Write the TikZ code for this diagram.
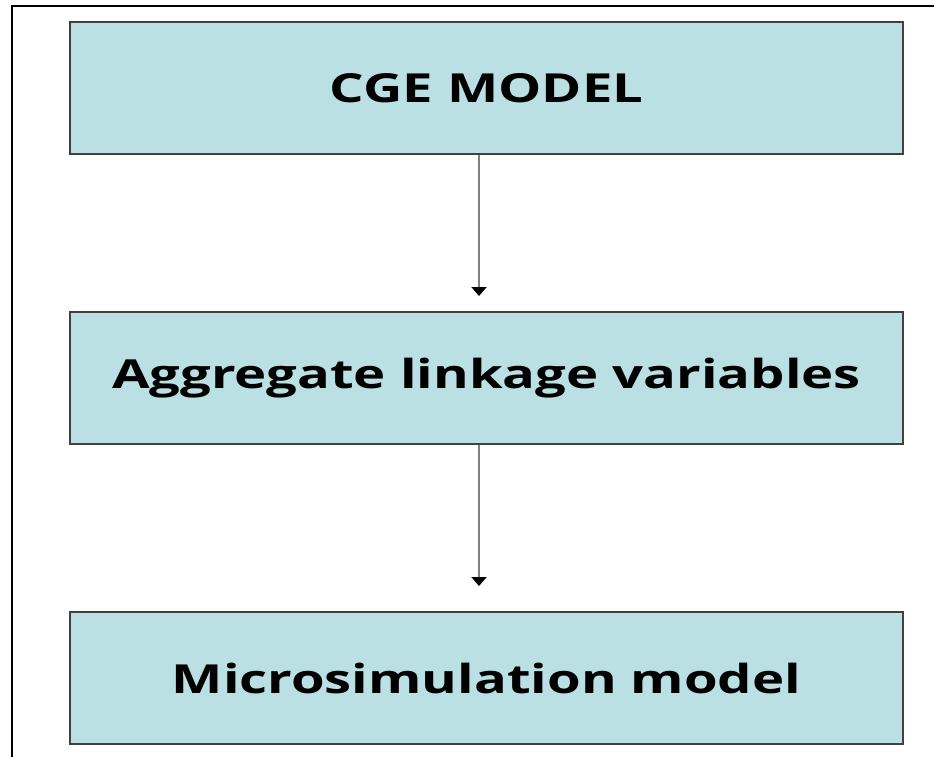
\documentclass[tikz,border=0pt]{standalone}
\usepackage{fontspec}
\setmainfont{Open Sans}[FakeStretch=1.36]
\usepackage{xcolor}
\usepackage{tikz}
\usetikzlibrary{positioning, arrows.meta}
\definecolor{boxblue}{RGB}{187,224,228}
\definecolor{boxedge}{RGB}{64,64,64}
\definecolor{linkgray}{RGB}{128,128,128}

\begin{document}
\begin{tikzpicture}[x=1pt, y=-1pt,
    stage/.style={draw=boxedge, line width=2pt, fill=boxblue, minimum width=833pt, minimum height=132pt,
      inner sep=0pt, font=\fontsize{40}{48}\selectfont\bfseries},
    link/.style={draw=linkgray, line width=2pt, -{Triangle[width=15pt, length=9pt, black]}}]
    \useasboundingbox (0,0) rectangle (934,756);
    \begin{scope}
      \clip (0,0) rectangle (934,756);
      \draw[line width=2pt] (12,6) rectangle (960,780);
    \end{scope}
    \node[stage] (cge) at (486.5,88) {CGE MODEL};
    \node[stage, below=156pt of cge] (agg) {Aggregate linkage variables};
    \node[stage, below=166pt of agg] (micro) {Microsimulation model};
    % links run a little left of the box centres
    \draw[link, shorten >=15pt] ([xshift=-7.5pt]cge.south) -- ([xshift=-7.5pt]agg.north);
    \draw[link, shorten >=25pt] ([xshift=-7.5pt]agg.south) -- ([xshift=-7.5pt]micro.north);
  \end{tikzpicture}
\end{document}
